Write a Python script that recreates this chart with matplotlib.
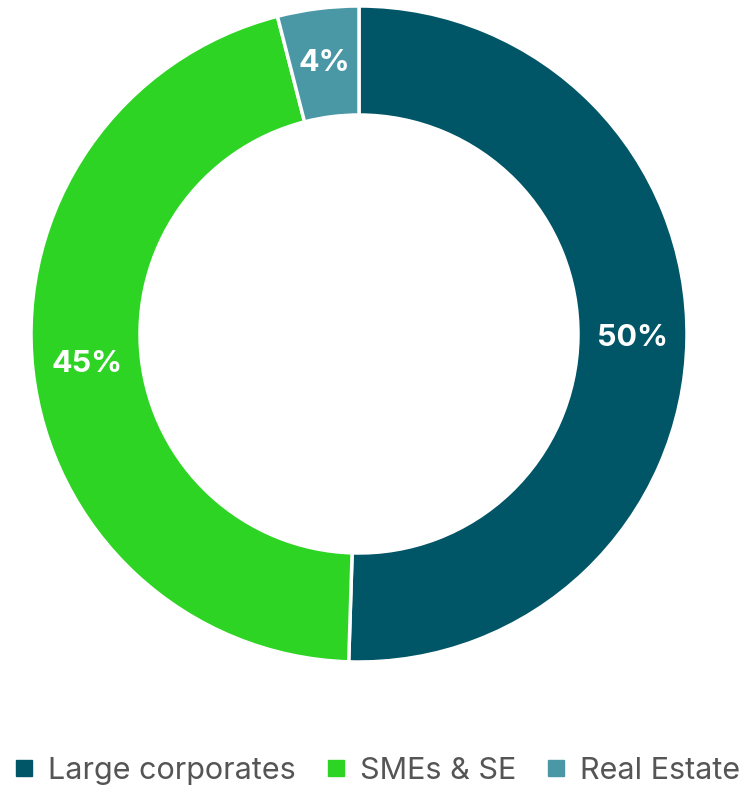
import numpy as np
import matplotlib.pyplot as plt
from matplotlib.lines import Line2D

# Data
categories = ['Large corporates', 'SMEs & SE', 'Real Estate']
shares = [50.5, 45.5, 4.0]
pct_labels = ['50%', '45%', '4%']
colors = ['#005566', '#2ed424', '#4a98a6']

plt.rcParams['font.family'] = ['Inter', 'DejaVu Sans']

fig = plt.figure(figsize=(7.49, 7.93), dpi=100)
ax = fig.add_axes([0, 0, 1, 1])

# donut geometry in pixel units
cx, cy, r = 359, 793 - 334, 328
width = 109

wedges, _ = ax.pie(shares, colors=colors, startangle=90, counterclock=False,
                   radius=r, center=(cx, cy),
                   wedgeprops=dict(width=width, edgecolor='white', linewidth=2.5))

# percentage labels at the middle of each ring segment
start = 90.0
total = sum(shares)
for val, lab in zip(shares, pct_labels):
    ang = start - val / total * 360 / 2
    start -= val / total * 360
    rr = r - width / 2
    x = cx + rr * np.cos(np.radians(ang))
    y = cy + rr * np.sin(np.radians(ang))
    ax.text(x, y, lab, ha='center', va='center', color='white',
            fontsize=22, fontweight='bold')

ax.set_xlim(0, 749)
ax.set_ylim(0, 793)
ax.set_aspect('equal')
ax.axis('off')

handles = [Line2D([], [], marker='s', linestyle='none', markersize=11,
                  markerfacecolor=c, markeredgecolor=c) for c in colors]
fig.legend(handles, categories, loc='center', bbox_to_anchor=(0.503, 1 - 771 / 793),
           ncol=3, frameon=False, fontsize=22, labelcolor='#555555',
           handletextpad=0.45, columnspacing=0.95, handlelength=0.7)

plt.savefig('out.png', dpi=100)
